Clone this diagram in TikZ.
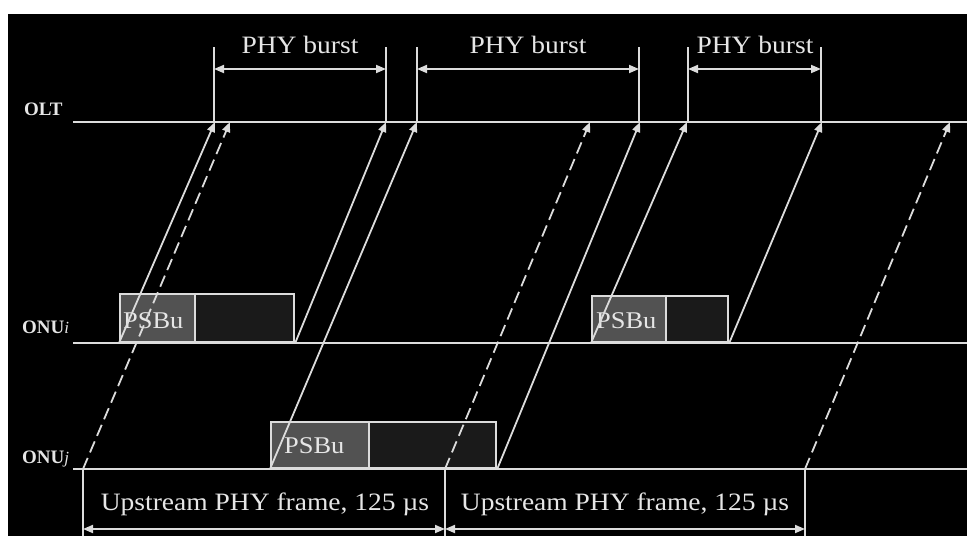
\documentclass[tikz,border=0pt]{standalone}
\usepackage{fontspec}
\setmainfont{Liberation Serif}
\newfontfamily\widefont[FakeStretch=1.1]{Liberation Serif}
\usetikzlibrary{arrows.meta}
\definecolor{ln}{HTML}{DCDCDC}
\definecolor{tx}{HTML}{E6E6E6}
\definecolor{psbu}{HTML}{525252}
\definecolor{dat}{HTML}{1A1A1A}
\begin{document}
\begin{tikzpicture}[x=1pt,y=-1pt,
  axis/.style={draw=ln, line width=2.2pt},
  tip/.style={-{Triangle[length=10pt,width=8pt]}},
  sig/.style={draw=ln, line width=1.8pt, tip},
  sigd/.style={sig, dash pattern=on 12pt off 6pt},
  dimar/.style={draw=ln, line width=1.8pt, {Triangle[length=10pt,width=8pt]}-{Triangle[length=10pt,width=8pt]}},
  tickln/.style={draw=ln, line width=1.6pt},
  lbl/.style={text=tx, font=\widefont\fontsize{25}{28}\selectfont, inner sep=0pt, anchor=base},
  side/.style={text=tx, font=\fontsize{19}{22}\selectfont\bfseries, inner sep=0pt, anchor=base west},
  psbox/.style={draw=ln, line width=2.2pt, fill=psbu, anchor=south west, inner sep=0pt},
  dbox/.style={draw=ln, line width=2.2pt, fill=dat, anchor=south west, inner sep=0pt}
]
\useasboundingbox (0,0) rectangle (967,536);
\fill[white] (0,0) rectangle (967,536);
\fill[black] (8,14) rectangle (967,536);

% time axes
\coordinate (oltL) at (73,122); \coordinate (oltR) at (967,122);
\coordinate (onuiL) at (73,343); \coordinate (onuiR) at (967,343);
\coordinate (onujL) at (73,469); \coordinate (onujR) at (967,469);
\draw[axis] (oltL) -- (oltR);
\draw[axis] (onuiL) -- (onuiR);
\draw[axis] (onujL) -- (onujR);

\node[side] (olt) at (24,115) {OLT};
\node[side] (onui) at (22,333) {ONU\textmd{\textit{\fontsize{17}{20}\selectfont i}}};
\node[side] (onuj) at (22,463) {ONU\textmd{\textit{\fontsize{17}{20}\selectfont j}}};

% bursts
\node[psbox, minimum width=75pt, minimum height=48pt] (bi1p) at (119,343) {};
\node[dbox, minimum width=99pt, minimum height=48pt] (bi1d) at (194,343) {};
\node[psbox, minimum width=74pt, minimum height=46pt] (bi2p) at (591,343) {};
\node[dbox, minimum width=62pt, minimum height=46pt] (bi2d) at (665,343) {};
\node[psbox, minimum width=98pt, minimum height=46pt] (bjp) at (270,469) {};
\node[dbox, minimum width=127pt, minimum height=46pt] (bjd) at (368,469) {};
\node[lbl, anchor=base west, font=\widefont\fontsize{24}{26}\selectfont] (t1) at (123,328) {PSBu};
\node[lbl, anchor=base west, font=\widefont\fontsize{24}{26}\selectfont] (t2) at (596,328) {PSBu};
\node[lbl, anchor=base west, font=\widefont\fontsize{24}{26}\selectfont] (t3) at (284,453) {PSBu};

% arrival points at OLT
\coordinate (a1) at (215,122);
\coordinate (a2) at (386,122);
\coordinate (a3) at (417,122);
\coordinate (a4) at (640,122);
\coordinate (a5) at (687,122);
\coordinate (a6) at (822,122);
\coordinate (d1) at (230,122);
\coordinate (d2) at (590,122);
\coordinate (d3) at (950,122);
% frame starts on ONUj
\coordinate (f1) at (83,469);
\coordinate (f2) at (445,469);
\coordinate (f3) at (805,469);

\draw[sig] (bi1p.south west) -- (a1);
\draw[sig] (bi1d.south east) -- (a2);
\draw[sig] (bjp.south west) -- (a3);
\draw[sig] (bjd.south east) -- (a4);
\draw[sig] (bi2p.south west) -- (a5);
\draw[sig] (bi2d.south east) -- (a6);
\draw[sigd] (f1) -- (d1);
\draw[sigd] (f2) -- (d2);
\draw[sigd] (f3) -- (d3);

% PHY burst dimensions
\coordinate (p1a) at (214,47); \coordinate (p1b) at (386,47);
\coordinate (p2a) at (417,47); \coordinate (p2b) at (639,47);
\coordinate (p3a) at (688,47); \coordinate (p3b) at (821,47);
\draw[tickln] (p1a) -- (214,122);
\draw[tickln] (p1b) -- (386,122);
\draw[tickln] (p2a) -- (417,122);
\draw[tickln] (p2b) -- (639,122);
\draw[tickln] (p3a) -- (688,122);
\draw[tickln] (p3b) -- (821,122);
\coordinate (q1a) at (214,69); \coordinate (q1b) at (386,69);
\coordinate (q2a) at (417,69); \coordinate (q2b) at (639,69);
\coordinate (q3a) at (688,69); \coordinate (q3b) at (821,69);
\draw[dimar] (q1a) -- (q1b);
\draw[dimar] (q2a) -- (q2b);
\draw[dimar] (q3a) -- (q3b);
\node[lbl] (pb1) at (300,53) {PHY burst};
\node[lbl] (pb2) at (528,53) {PHY burst};
\node[lbl] (pb3) at (755,53) {PHY burst};

% frame dimensions
\draw[tickln] (f1) -- (83,536);
\draw[tickln] (f2) -- (445,536);
\draw[tickln] (f3) -- (805,536);
\coordinate (g1) at (83,529); \coordinate (g2) at (445,529); \coordinate (g3) at (805,529);
\draw[dimar] (g1) -- (g2);
\draw[dimar] (g2) -- (g3);
\node[lbl] (fr1) at (265,510) {Upstream PHY frame, 125 µs};
\node[lbl] (fr2) at (625,510) {Upstream PHY frame, 125 µs};
\end{tikzpicture}
\end{document}
